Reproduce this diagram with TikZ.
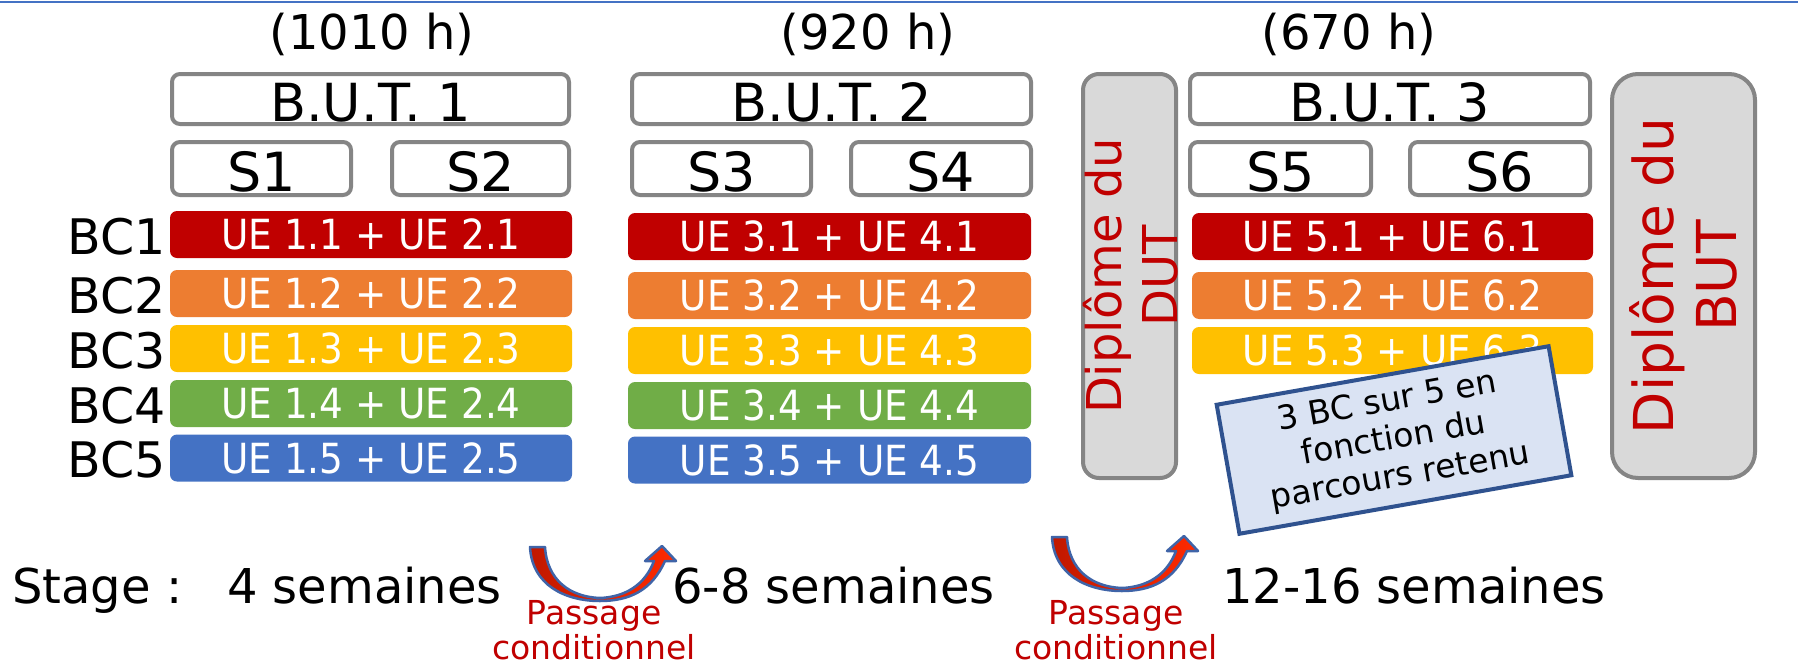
\documentclass[tikz,border=0pt]{standalone}
\usepackage{fontspec}
\setmainfont{DejaVu Sans}
\newfontfamily\condfont{DejaVu Sans}[FakeStretch=0.9]
\definecolor{bgray}{HTML}{858585}
\definecolor{ured}{HTML}{C00000}
\definecolor{uorange}{HTML}{ED7D31}
\definecolor{uyellow}{HTML}{FFC000}
\definecolor{ugreen}{HTML}{70AD47}
\definecolor{ublue}{HTML}{4472C4}
\definecolor{dipfill}{HTML}{D9D9D9}
\definecolor{notefill}{HTML}{DAE3F3}
\definecolor{noteborder}{HTML}{2F528F}
\definecolor{arrowborder}{HTML}{3F64A8}
\definecolor{arrowdark}{HTML}{C01800}
\definecolor{arrowbright}{HTML}{FF2A00}
\begin{document}
\begin{tikzpicture}[x=1pt,y=-1pt,
  hdrbox/.style={draw=bgray, line width=4pt, rounded corners=8pt, fill=white,
    inner sep=0pt, text height=44pt, text depth=0pt, font=\fontsize{52.5}{60}\selectfont},
  sembox/.style={draw=bgray, line width=4pt, rounded corners=8pt, fill=white,
    inner sep=0pt, minimum width=179pt, minimum height=53pt,
    text height=45pt, text depth=0pt, font=\fontsize{54}{62}\selectfont},
  uebox/.style={fill=#1, rounded corners=7pt, inner sep=0pt,
    minimum width=402pt, minimum height=47pt, text=white,
    text height=30pt, text depth=0pt, font=\condfont\fontsize{41.5}{48}\selectfont},
  bclabel/.style={inner sep=0pt, anchor=east, text height=35pt, text depth=0pt,
    font=\fontsize{49}{56}\selectfont},
  hours/.style={inner sep=0pt, anchor=base, font=\fontsize{48}{56}\selectfont},
  dipbox/.style={draw=bgray, line width=4pt, fill=dipfill, inner sep=0pt},
  diptext/.style={inner sep=0pt, rotate=90, align=center, text=ured},
  stagetext/.style={inner sep=0pt, anchor=base west, font=\fontsize{48}{56}\selectfont},
  passtext/.style={inner sep=0pt, anchor=north, align=center, text=ured,
    font=\fontsize{33}{35}\selectfont},
  notebox/.style={draw=noteborder, line width=4pt, fill=notefill, inner sep=0pt,
    align=center, font=\fontsize{33}{38}\selectfont},
  arrowshape/.style={draw=arrowborder, line width=2.5pt, line join=round,
    left color=arrowdark, right color=arrowbright},
  curvarrow/.pic={
    \path[arrowshape] (0,0) -- (15,0) .. controls (17,33) and (40,50) .. (70,51)
      .. controls (95,50) and (115,38) .. (124,14) -- (115,14) -- (132,-1)
      -- (146,14) -- (135,14) .. controls (122,43) and (100,54) .. (70,54)
      .. controls (35,54) and (2,38) .. (0,0) -- cycle;
  }
]
\useasboundingbox (0,0) rectangle (1798,664);
\fill[white] (0,0) rectangle (1798,664);
\draw[ublue, line width=2.5pt] (0,2) -- (1798,2);

% hours
\node[hours] (h1) at (372,49) {(1010 h)};
\node[hours] (h2) at (868,49) {(920 h)};
\node[hours] (h3) at (1349,49) {(670 h)};

% year boxes
\node[hdrbox, minimum width=397pt, minimum height=50pt] (but1) at (370.5,99) {B.U.T. 1};
\node[hdrbox, minimum width=399pt, minimum height=50pt] (but2) at (831.5,99) {B.U.T. 2};
\node[hdrbox, minimum width=400pt, minimum height=50pt] (but3) at (1390,99) {B.U.T. 3};

% semesters
\node[sembox] (s1) at (261.5,168.5) {S1};
\node[sembox, minimum width=177pt] (s2) at (480.5,168.5) {S2};
\node[sembox] (s3) at (721.5,168.5) {S3};
\node[sembox, minimum width=180pt] (s4) at (941,168.5) {S4};
\node[sembox, minimum width=181pt] (s5) at (1280.5,168.5) {S5};
\node[sembox, minimum width=180pt] (s6) at (1500,168.5) {S6};

% UE rows
\foreach \r/\c/\y in {1/ured/234.5, 2/uorange/293.5, 3/uyellow/348.5, 4/ugreen/403.5, 5/ublue/458}{
  \node[bclabel] (bc\r) at (166,\y+2) {BC\r};
  \node[uebox=\c] (uea\r) at (371,\y) {UE 1.\r{} + UE 2.\r};
  \node[uebox=\c, minimum width=403pt] (ueb\r) at (829.5,\y+2) {UE 3.\r{} + UE 4.\r};
}
\foreach \r/\c/\y in {1/ured/234.5, 2/uorange/293.5, 3/uyellow/348.5}{
  \node[uebox=\c, minimum width=401pt] (uec\r) at (1392.5,\y+2) {UE 5.\r{} + UE 6.\r};
}

% diplomas
\node[dipbox, rounded corners=16pt, minimum width=93pt, minimum height=404pt] (dut) at (1129.5,276) {};
\node[diptext, font=\fontsize{48}{56}\selectfont] (duttext) at (1131,276) {Diplôme du\\DUT};
\node[dipbox, rounded corners=26pt, minimum width=143pt, minimum height=404pt] (butd) at (1683.5,276) {};
\node[diptext, font=\fontsize{55}{63}\selectfont] (buttext) at (1683,276) {Diplôme du\\BUT};

% note
\node[notebox, rotate=10, minimum width=337pt, minimum height=131pt] (note) at (1394,440)
  {3 BC sur 5 en\\fonction du\\parcours retenu};

% internships
\node[stagetext] (stage) at (12,603) {Stage :};
\node[stagetext] (w1) at (227,603) {4 semaines};
\node[stagetext] (w2) at (672,603) {6-8 semaines};
\node[stagetext] (w3) at (1222,603) {12-16 semaines};

% conditional passages
\pic at (530,547) {curvarrow};
\pic at (1052,537) {curvarrow};
\node[passtext] (p1) at (594,600) {Passage\\conditionnel};
\node[passtext] (p2) at (1116,600) {Passage\\conditionnel};
\end{tikzpicture}
\end{document}
